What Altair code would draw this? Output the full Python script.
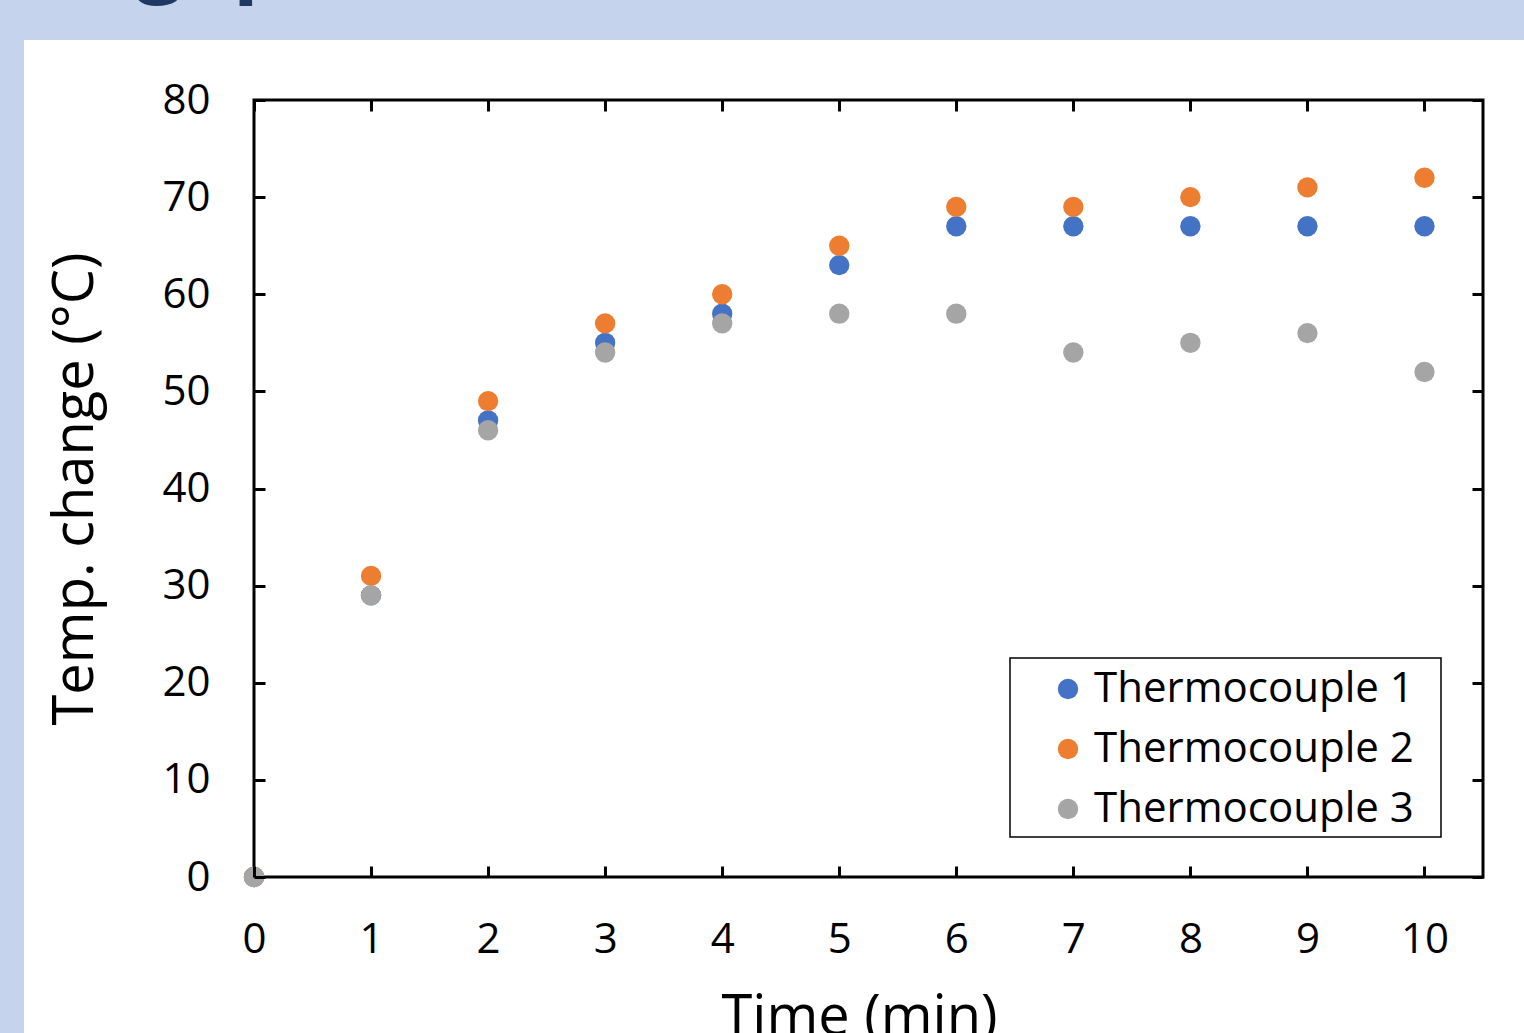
import altair as alt
import pandas as pd

time_min = [0, 1, 2, 3, 4, 5, 6, 7, 8, 9, 10]
tc1 = [0, 29, 47, 55, 58, 63, 67, 67, 67, 67, 67]
tc2 = [0, 31, 49, 57, 60, 65, 69, 69, 70, 71, 72]
tc3 = [0, 29, 46, 54, 57, 58, 58, 54, 55, 56, 52]
series_names = ["Thermocouple 1", "Thermocouple 2", "Thermocouple 3"]
series_colors = ["#4472C4", "#ED7D31", "#A5A5A5"]
x_ticks = list(range(0, 11))
y_ticks = list(range(0, 81, 10))

rows = []
for name, vals in zip(series_names, [tc1, tc2, tc3]):
    for t, v in zip(time_min, vals):
        rows.append({"Time": t, "Temp": v, "Series": name})
df = pd.DataFrame(rows)

W, H = 1229, 777
FONT = "Open Sans"

xscale = alt.Scale(domain=[0, 10.5], nice=False, zero=False)
yscale = alt.Scale(domain=[0, 80], nice=False)

one = pd.DataFrame({"a": [0]})

# white panel behind the chart
panel = alt.Chart(one).mark_rect(color="white").encode(
    x=alt.value(-230), x2=alt.value(W + 60),
    y=alt.value(-60), y2=alt.value(H + 200),
)
# slide-title fragment cut off at the top edge
title_g = alt.Chart(one).mark_text(text="g", font=FONT, fontSize=84, fontWeight="bold",
                                   color="#1F3864", align="center", baseline="alphabetic").encode(
    x=alt.value(-94), y=alt.value(-114))
title_p = alt.Chart(one).mark_text(text="p", font=FONT, fontSize=84, fontWeight="bold",
                                   color="#1F3864", align="left", baseline="alphabetic").encode(
    x=alt.value(-21), y=alt.value(-114))
# black plot frame
frame = alt.Chart(one).mark_rect(filled=False, stroke="black", strokeWidth=3).encode(
    x=alt.value(0), x2=alt.value(W),
    y=alt.value(0), y2=alt.value(H),
)
# legend box
legend_box = alt.Chart(one).mark_rect(fill="white", stroke="black", strokeWidth=1.5).encode(
    x=alt.value(756), x2=alt.value(1187),
    y=alt.value(558), y2=alt.value(737),
)

main = alt.Chart(df).mark_circle(size=415, opacity=1).encode(
    x=alt.X("Time:Q", scale=xscale,
            axis=alt.Axis(orient="bottom", values=x_ticks, ticks=False, tickSize=0,
                          domain=False, grid=False, labelFont=FONT, labelFontSize=42,
                          labelColor="black", labelPadding=42, labelFlush=False,
                          title="Time (min)", titleX=605, titleAlign="center",
                          titleFont=FONT, titleFontSize=56, titleFontWeight="normal",
                          titleColor="black", titlePadding=30, zindex=1)),
    y=alt.Y("Temp:Q", scale=yscale,
            axis=alt.Axis(orient="left", values=y_ticks, ticks=False, tickSize=0,
                          domain=False, grid=False, labelFont=FONT, labelFontSize=42,
                          labelColor="black", labelPadding=44, labelFlush=False,
                          title="Temp. change (°C)",
                          titleFont=FONT, titleFontSize=56, titleFontWeight="normal",
                          titleColor="black", titlePadding=57, zindex=1)),
    color=alt.Color("Series:N", scale=alt.Scale(domain=series_names, range=series_colors),
                    legend=alt.Legend(title=None, orient="none", legendX=756, legendY=558,
                                      labelFont=FONT, labelFontSize=42, labelColor="black",
                                      symbolType="circle", symbolSize=415, symbolStrokeWidth=0,
                                      labelOffset=5, rowPadding=18, padding=10,
                                      symbolOffset=27, labelLimit=600, zindex=2)),
    order=alt.Order("Series:N"),
)


def tick_axis(orient, values):
    return alt.Axis(orient=orient, values=values, ticks=True, tickSize=11, tickWidth=3,
                    tickColor="black", labels=False, domain=False, grid=False,
                    title=None, offset=-11, zindex=1)


ticks_bl = alt.Chart(df).mark_point(opacity=0).encode(
    x=alt.X("Time:Q", scale=xscale, axis=tick_axis("bottom", x_ticks)),
    y=alt.Y("Temp:Q", scale=yscale, axis=tick_axis("left", y_ticks)),
)
ticks_tr = alt.Chart(df).mark_point(opacity=0).encode(
    x=alt.X("Time:Q", scale=xscale, axis=tick_axis("top", x_ticks)),
    y=alt.Y("Temp:Q", scale=yscale, axis=tick_axis("right", y_ticks)),
)

chart = alt.layer(panel, title_g, title_p, frame, legend_box, main, ticks_bl, ticks_tr).resolve_axis(
    x="independent", y="independent"
).properties(
    width=W, height=H,
    autosize=alt.AutoSizeParams(type="none"),
    padding={"left": 254, "top": 100, "right": 41, "bottom": 156},
    background="#C5D4EC",
).configure_view(strokeWidth=0)

chart.save("out.html", embed_options={"renderer": "svg", "actions": False})
